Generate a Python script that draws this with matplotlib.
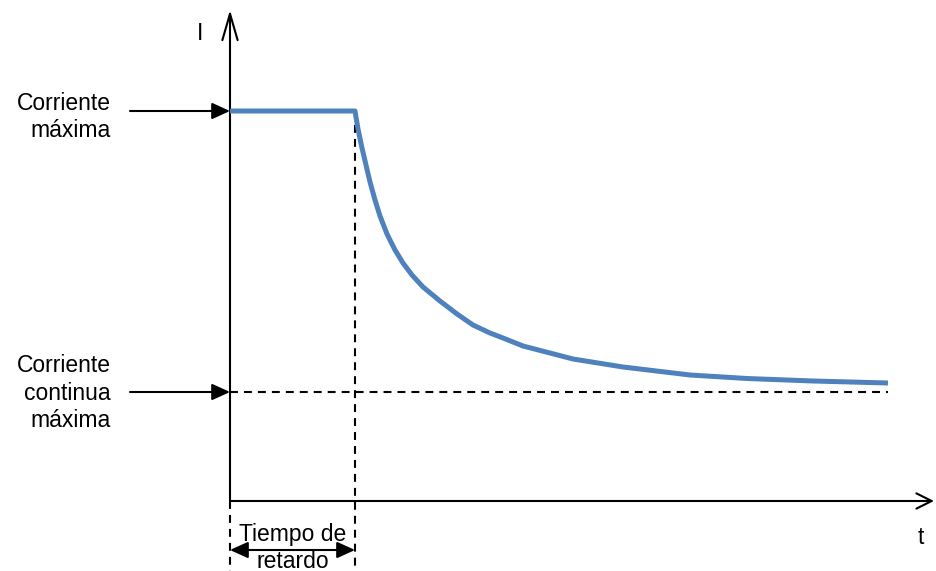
import matplotlib
matplotlib.use("Agg")
import matplotlib.pyplot as plt

plt.rcParams['font.family'] = ['Liberation Sans', 'DejaVu Sans']

# Data (t in arbitrary time units, I in arbitrary current units)
t_delay = 125
I_max = 390
I_cont = 109
t_end = 658

t_flat = [0, 125]
I_flat = [390, 390]
t_decay = [125, 128, 132, 136, 140, 145, 150, 157, 165, 173, 182, 193, 210, 227, 243, 260,
           273, 293, 343, 393, 460, 517, 583, 658]
I_decay = [390, 372, 353, 336, 319, 301, 285, 267, 251, 238, 226, 214, 200, 187, 176, 168,
           163, 155, 142, 134, 126, 122.5, 120, 118]

label_max = "Corriente\nmáxima"
label_cont = "Corriente\ncontinua\nmáxima"
label_delay = "Tiempo de\nretardo"
label_I = "I"
label_t = "t"

fig = plt.figure(figsize=(9.36, 5.71), dpi=100)
ax = fig.add_axes([0, 0, 1, 1])
ax.set_xlim(-230, 706)
ax.set_ylim(-70, 501)
ax.axis('off')

blue = '#4F81BD'
fs = 16.5
dash = (0, (3.8, 2.9))

# axes with open arrowheads
ax.annotate('', xy=(0, 491), xytext=(0, 0),
            arrowprops=dict(arrowstyle='->,head_length=1.9,head_width=0.55', lw=1.5, color='black',
                            shrinkA=0, shrinkB=0))
ax.annotate('', xy=(704, 0), xytext=(0, 0),
            arrowprops=dict(arrowstyle='->,head_length=1.1,head_width=0.55', lw=1.5, color='black',
                            shrinkA=0, shrinkB=0))

# dashed guides
ax.plot([0, t_end], [I_cont, I_cont], color='black', lw=1.5, ls=dash)
ax.plot([t_delay, t_delay], [I_max, -70], color='black', lw=1.5, ls=dash)
ax.plot([0, 0], [0, -70], color='black', lw=1.5, ls=dash)

# current curve
ax.plot(t_flat + t_decay[1:], I_flat + I_decay[1:], color=blue, lw=3.6, solid_joinstyle='round',
        solid_capstyle='butt', zorder=3)

# label arrows
arrow_kw = dict(arrowstyle='-|>,head_length=1.1,head_width=0.5', lw=1.5, color='black',
                shrinkA=0, shrinkB=0)
ax.annotate('', xy=(0, I_max), xytext=(-100, I_max), arrowprops=arrow_kw)
ax.annotate('', xy=(0, I_cont), xytext=(-100, I_cont), arrowprops=arrow_kw)
ax.annotate('', xy=(0, -49), xytext=(t_delay, -49),
            arrowprops=dict(arrowstyle='<|-|>,head_length=1.1,head_width=0.5', lw=1.5,
                            color='black', shrinkA=0, shrinkB=0))

ax.text(-119, 384, label_max, ha='right', va='center', fontsize=fs, linespacing=1.25,
        multialignment='right')
ax.text(-119, 108, label_cont, ha='right', va='center', fontsize=fs, linespacing=1.25,
        multialignment='right')
ax.text(63, -47, label_delay, ha='center', va='center', fontsize=fs, linespacing=1.2)
ax.text(-30, 468, label_I, ha='center', va='center', fontsize=fs)
ax.text(691, -36, label_t, ha='center', va='center', fontsize=fs)

fig.savefig('out.png', dpi=100)
